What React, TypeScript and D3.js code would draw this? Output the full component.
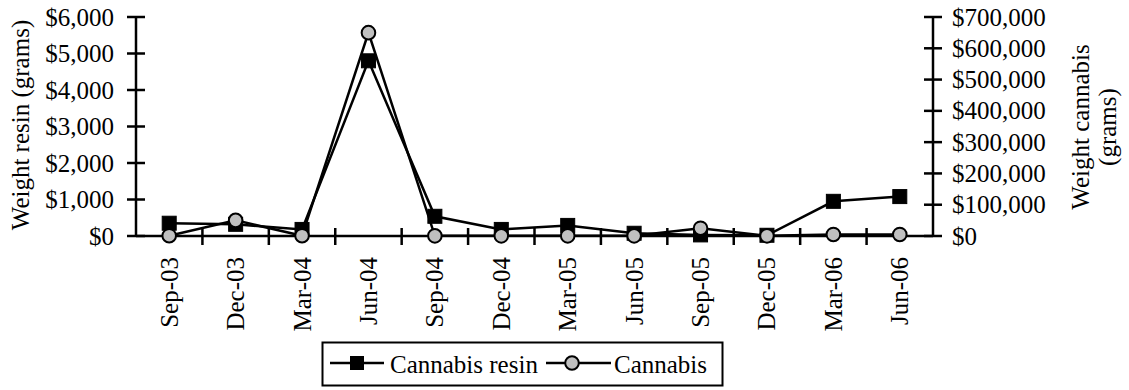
import React from 'react';
import * as d3 from 'd3';

const categories = ['Sep-03', 'Dec-03', 'Mar-04', 'Jun-04', 'Sep-04', 'Dec-04', 'Mar-05', 'Jun-05', 'Sep-05', 'Dec-05', 'Mar-06', 'Jun-06'];
// left axis
const resin = [350, 320, 180, 4800, 540, 180, 290, 75, 30, 20, 950, 1080];
// right axis
const cannabis = [1000, 50000, 1000, 650000, 500, 500, 500, 500, 25000, 500, 5000, 5000];
const leftTicks = [0, 1000, 2000, 3000, 4000, 5000, 6000];
const rightTicks = [0, 100000, 200000, 300000, 400000, 500000, 600000, 700000];

const W = 1129;
const H = 390;
const FONT = '"Liberation Serif", "Times New Roman", serif';
const FS = 25;

const App: React.FC = () => {
  const x0 = 136;
  const x1 = 933;
  const yTop = 17;
  const yBot = 236;

  const x = d3.scaleBand<string>().domain(categories).range([x0, x1]).padding(0);
  const yL = d3.scaleLinear().domain([0, 6000]).range([yBot, yTop]);
  const yR = d3.scaleLinear().domain([0, 700000]).range([yBot, yTop]);
  const fmt = d3.format('$,');
  const cx = (c: string) => (x(c) ?? 0) + x.bandwidth() / 2;

  const lineL = d3.line<number>().x((_d, i) => cx(categories[i])).y((d) => yL(d));
  const lineR = d3.line<number>().x((_d, i) => cx(categories[i])).y((d) => yR(d));

  const boundaries = categories.map((c) => (x(c) ?? 0) + x.bandwidth()).slice(0, -1);
  const sw = 2.5;

  return (
    <svg width={W} height={H} style={{ position: 'absolute', left: 0, top: 0, background: '#fff' }} fontFamily={FONT}>
      {/* left axis */}
      <line x1={x0} x2={x0} y1={yTop} y2={yBot} stroke="#000" strokeWidth={sw} />
      {leftTicks.map((t) => (
        <g key={'l' + t}>
          <line x1={x0 - 9} x2={x0 + 9} y1={yL(t)} y2={yL(t)} stroke="#000" strokeWidth={sw} />
          <text x={x0 - 22} y={yL(t)} textAnchor="end" dominantBaseline="central" fontSize={FS}>
            {fmt(t)}
          </text>
        </g>
      ))}
      <text transform={`translate(20,125) rotate(-90)`} textAnchor="middle" dominantBaseline="central" fontSize={FS}>
        Weight resin (grams)
      </text>

      {/* right axis */}
      <line x1={x1} x2={x1} y1={yTop} y2={yBot} stroke="#000" strokeWidth={sw} />
      {rightTicks.map((t) => (
        <g key={'r' + t}>
          <line x1={x1 - 9} x2={x1 + 9} y1={yR(t)} y2={yR(t)} stroke="#000" strokeWidth={sw} />
          <text x={x1 + 19} y={yR(t)} textAnchor="start" dominantBaseline="central" fontSize={FS}>
            {fmt(t)}
          </text>
        </g>
      ))}
      <text transform={`translate(1080,127) rotate(-90)`} textAnchor="middle" dominantBaseline="central" fontSize={FS}>
        Weight cannabis
      </text>
      <text transform={`translate(1107,127) rotate(-90)`} textAnchor="middle" dominantBaseline="central" fontSize={FS}>
        (grams)
      </text>

      {/* x axis */}
      <line x1={x0} x2={x1} y1={yBot} y2={yBot} stroke="#000" strokeWidth={sw} />
      {boundaries.map((b, i) => (
        <line key={'b' + i} x1={b} x2={b} y1={yBot - 8} y2={yBot + 9} stroke="#000" strokeWidth={sw} />
      ))}
      {categories.map((c) => (
        <text key={c} transform={`translate(${cx(c)},257) rotate(-90)`} textAnchor="end" dominantBaseline="central" fontSize={FS}>
          {c}
        </text>
      ))}

      {/* series */}
      <path d={lineL(resin) ?? ''} fill="none" stroke="#000" strokeWidth={sw} />
      {resin.map((v, i) => (
        <rect key={'s' + i} x={cx(categories[i]) - 7} y={yL(v) - 7} width={14} height={14} fill="#000" stroke="#000" strokeWidth={1} />
      ))}
      <path d={lineR(cannabis) ?? ''} fill="none" stroke="#000" strokeWidth={sw} />
      {cannabis.map((v, i) => (
        <circle key={'c' + i} cx={cx(categories[i])} cy={yR(v)} r={6.8} fill="#c0c0c0" stroke="#000" strokeWidth={2} />
      ))}

      {/* legend */}
      <rect x={322.5} y={342.5} width={400} height={43} fill="#fff" stroke="#000" strokeWidth={2} />
      <line x1={330} x2={384} y1={363} y2={363} stroke="#000" strokeWidth={sw} />
      <rect x={350} y={356} width={14} height={14} fill="#000" />
      <text x={390} y={364} dominantBaseline="central" fontSize={FS}>Cannabis resin</text>
      <line x1={546} x2={611} y1={363} y2={363} stroke="#000" strokeWidth={sw} />
      <circle cx={572} cy={363} r={6.8} fill="#c0c0c0" stroke="#000" strokeWidth={2} />
      <text x={614} y={364} dominantBaseline="central" fontSize={FS}>Cannabis</text>
    </svg>
  );
};

export default App;
